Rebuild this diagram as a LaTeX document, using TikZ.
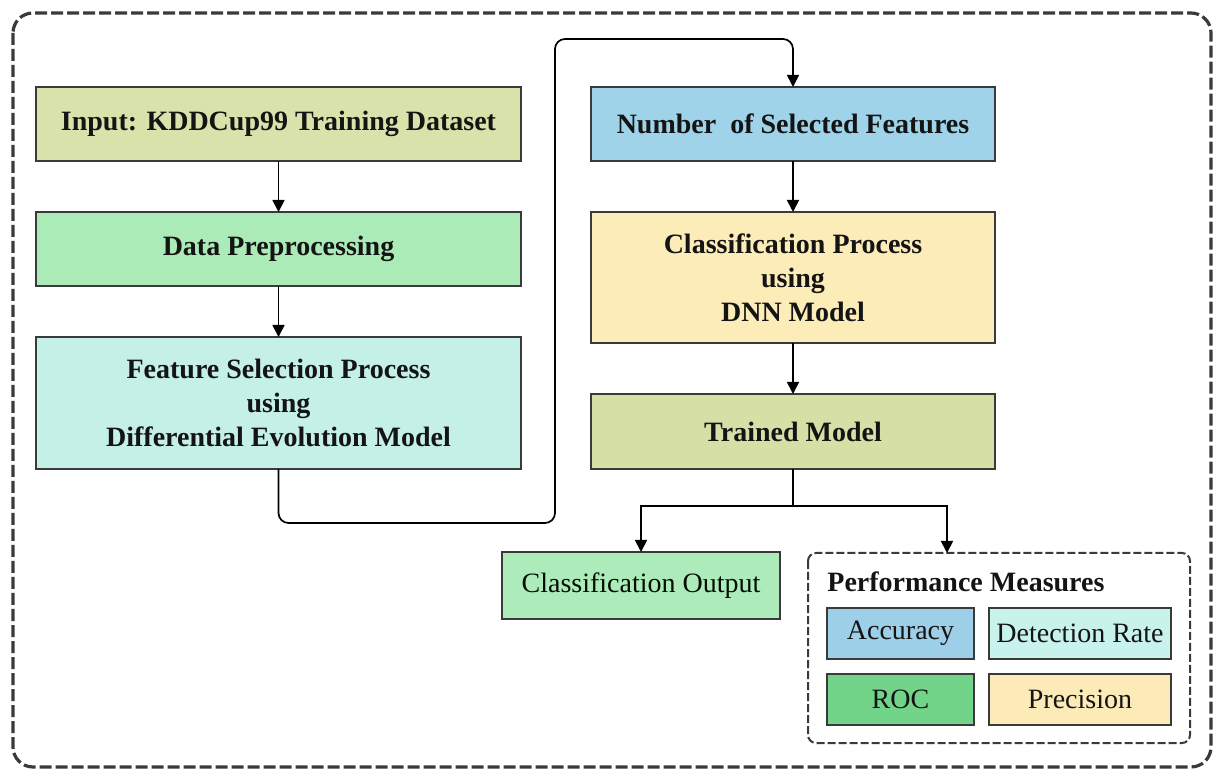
\documentclass[tikz,border=0pt]{standalone}
\usepackage{fontspec}
\setmainfont{Liberation Serif}
\usetikzlibrary{arrows.meta,positioning}
\definecolor{cInput}{HTML}{DAE2AB}
\definecolor{cPre}{HTML}{ABEBB8}
\definecolor{cFS}{HTML}{C4F0E8}
\definecolor{cNum}{HTML}{9FD3EA}
\definecolor{cCP}{HTML}{FCECB8}
\definecolor{cTM}{HTML}{D6E0A6}
\definecolor{cCO}{HTML}{AEEBBA}
\definecolor{cAcc}{HTML}{9ECFE8}
\definecolor{cDR}{HTML}{C8F2EC}
\definecolor{cROC}{HTML}{72D489}
\definecolor{cPrec}{HTML}{FCEBB6}
\definecolor{cBorder}{HTML}{3A3A3A}
\definecolor{cText}{HTML}{141414}
\tikzset{
  procbox/.style={draw=cBorder, line width=1pt, rectangle, inner sep=0pt, outer sep=0pt,
    align=center, text=cText, font=\fontsize{14}{17}\selectfont\bfseries},
  plainbox/.style={procbox, font=\fontsize{14}{17}\selectfont},
  conn/.style={line width=0.85pt, draw=black, -{Triangle[length=6pt,width=6pt]}},
  connplain/.style={line width=0.85pt, draw=black},
}
\begin{document}
\begin{tikzpicture}[x=0.5pt,y=-0.5pt]
\useasboundingbox (0,0) rectangle (1215,769);
% outer dashed frame
\draw[cBorder, line width=1.6pt, dash pattern=on 6pt off 2pt, rounded corners=10pt] (13,13) rectangle (1211,767);

% left column
\node[procbox, fill=cInput, minimum width=242.5pt, minimum height=37pt] (input) at (278.5,124) {Input: KDDCup99 Training Dataset};
\node[procbox, fill=cPre, minimum width=242.5pt, minimum height=37pt] (pre) at (278.5,249) {Data Preprocessing};
\node[procbox, fill=cFS, minimum width=242.5pt, minimum height=66pt] (fs) at (278.5,403) {Feature Selection Process\\using\\Differential Evolution Model};

% right column
\node[procbox, fill=cNum, minimum width=202pt, minimum height=37pt] (num) at (793,124) {Number~ of Selected Features};
\node[procbox, fill=cCP, minimum width=202pt, minimum height=65.5pt] (cp) at (793,277.5) {Classification Process\\using\\DNN Model};
\node[procbox, fill=cTM, minimum width=202pt, minimum height=37.5pt] (tm) at (793,431.5) {Trained Model};

% outputs
\node[plainbox, fill=cCO, minimum width=139pt, minimum height=33.5pt, text=black!85!green!40!black] (co) at (641,585.5) {Classification Output};

\draw[cBorder, line width=1pt, dash pattern=on 4pt off 1.5pt, rounded corners=4pt] (808,553) rectangle (1190,743);
\coordinate (perftop) at (947,553);
\node[font=\fontsize{14}{17}\selectfont\bfseries, text=cText, anchor=west, inner sep=0pt] (perf) at (827,582) {Performance Measures};
\node[plainbox, fill=cAcc, minimum width=73.5pt, minimum height=25.5pt] (acc) at (900.5,633.5) {Accuracy};
\node[plainbox, fill=cDR, minimum width=91pt, minimum height=25.5pt] (dr) at (1080,633.5) {Detection Rate};
\node[plainbox, fill=cROC, minimum width=73.5pt, minimum height=25.5pt] (roc) at (900.5,699.5) {ROC};
\node[plainbox, fill=cPrec, minimum width=91pt, minimum height=25.5pt] (prec) at (1080,699.5) {Precision};

% connectors
\draw[conn] (input) -- (pre);
\draw[conn] (pre) -- (fs);
\draw[conn] (num) -- (cp);
\draw[conn] (cp) -- (tm);
\coordinate (c1) at (555,523);
\coordinate (c2) at (555,39);
\draw[conn, rounded corners=5pt] (fs.south) |- (c1) -- (c2) -| (num.north);
\coordinate (split) at (793,506);
\draw[connplain] (tm.south) -- (split);
\draw[conn] (split) -| (co.north);
\draw[conn] (split) -| (perftop);
\end{tikzpicture}
\end{document}
